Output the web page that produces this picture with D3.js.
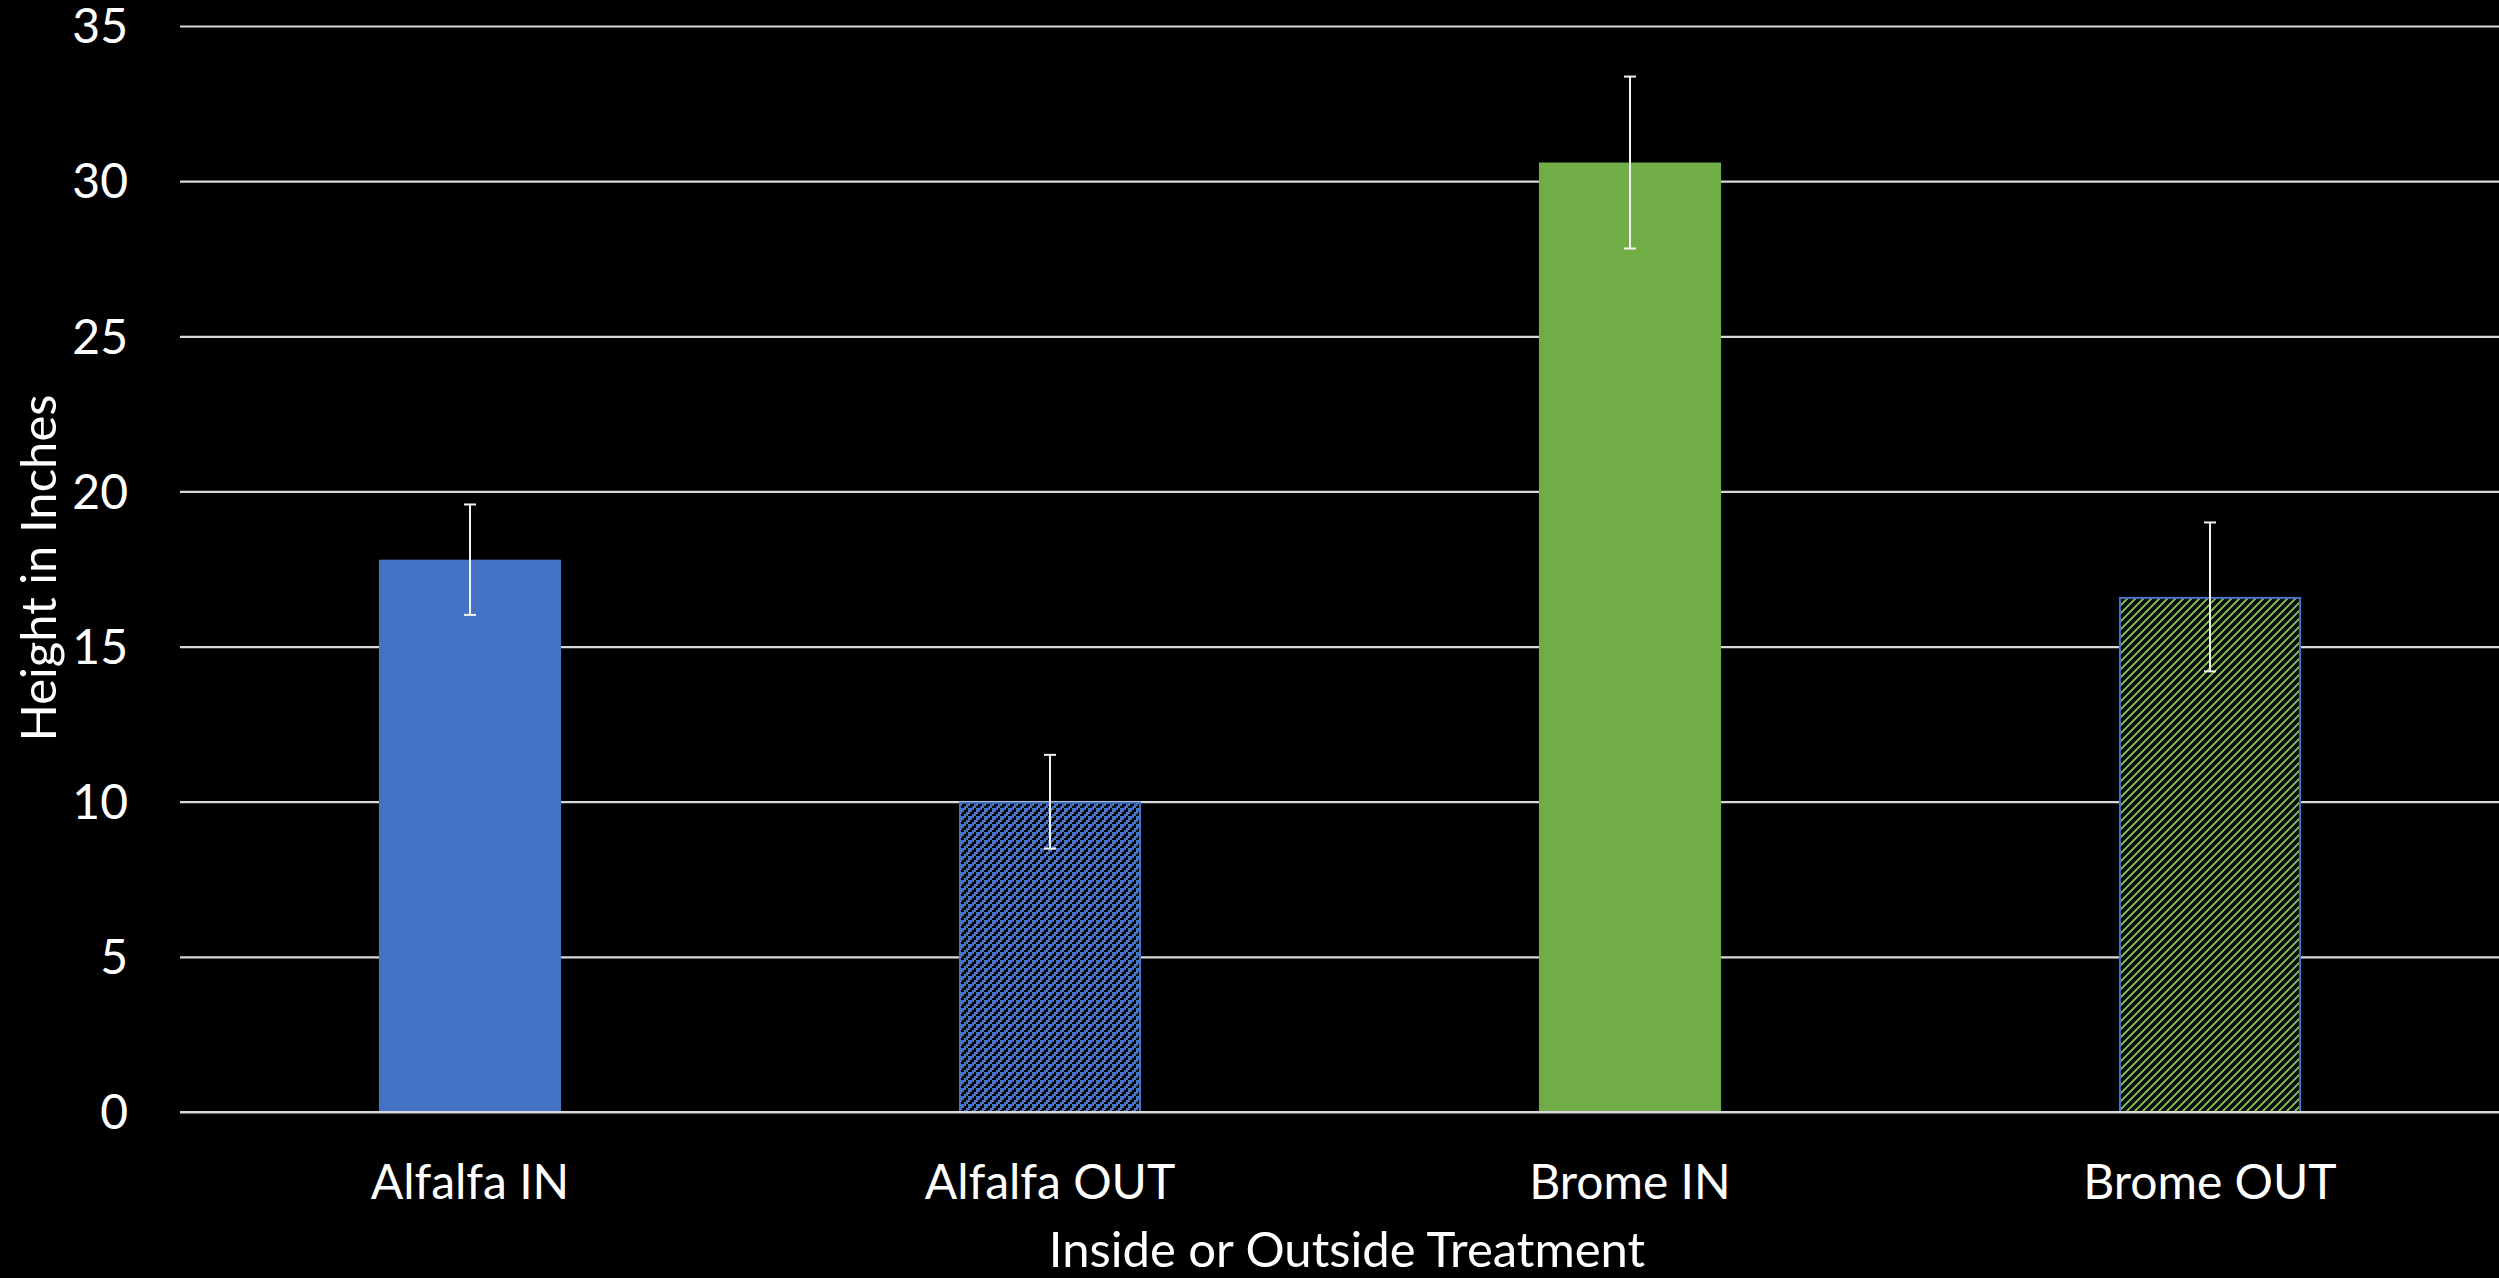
<!DOCTYPE html>
<html>
<head>
<meta charset="utf-8">
<script src="https://cdn.jsdelivr.net/npm/d3@7"></script>
<style>
  html, body { margin: 0; padding: 0; background: #000; }
  svg { display: block; }
  text { font-family: Lato, "Open Sans", sans-serif; fill: #fff; }
</style>
</head>
<body>
<svg id="chart" width="2499" height="1278"></svg>
<script>
const categories = ["Alfalfa IN", "Alfalfa OUT", "Brome IN", "Brome OUT"];
const heights = [17.8, 10.0, 30.6, 16.6];
const errors = [1.78, 1.51, 2.77, 2.4];
const yTicks = [0, 5, 10, 15, 20, 25, 30, 35];
const xTitle = "Inside or Outside Treatment";
const yTitle = "Height in Inches";

const W = 2499, H = 1278;
const margin = { left: 180, right: -1, top: 26, bottom: 166 };
const svg = d3.select("#chart");

const defs = svg.append("defs");
// Alfalfa OUT pattern: blue with black stepped upward diagonals
const p1 = defs.append("pattern").attr("id", "patBlue")
  .attr("patternUnits", "userSpaceOnUse").attr("width", 8).attr("height", 8);
p1.append("rect").attr("width", 8).attr("height", 8).attr("fill", "#4472C4");
[[6,0],[4,2],[2,4],[0,6]].forEach(([x,y]) => {
  p1.append("rect").attr("x", x).attr("y", y).attr("width", 4).attr("height", 2).attr("fill", "#000");
});
// Brome OUT pattern: green with dark upward diagonals
const p2 = defs.append("pattern").attr("id", "patGreen")
  .attr("patternUnits", "userSpaceOnUse").attr("width", 8).attr("height", 8);
p2.append("rect").attr("width", 8).attr("height", 8).attr("fill", "#70AD47");
for (let r = 0; r < 8; r++) {
  const x0 = 7 - r;
  [x0 - 8, x0].forEach(xx => {
    p2.append("rect").attr("x", xx).attr("y", r).attr("width", 5).attr("height", 1).attr("fill", "#0a0a0a");
  });
}

const fills = ["#4472C4", "url(#patBlue)", "#70AD47", "url(#patGreen)"];
const strokes = [null, "#4472C4", null, "#4472C4"];

const x = d3.scaleBand().domain(categories)
  .range([margin.left, W - margin.right])
  .paddingInner(0.686).paddingOuter(0.343);
const y = d3.scaleLinear().domain([0, 35]).range([H - margin.bottom, margin.top]);

// gridlines
const grid = svg.append("g")
  .attr("transform", `translate(${margin.left},0)`)
  .call(d3.axisLeft(y).tickValues(yTicks).tickSize(-(W - margin.left)).tickFormat(""));
grid.select(".domain").remove();
grid.selectAll("line").attr("stroke", "#d9d9d9").attr("stroke-width", 2.2);

// bars
svg.append("g").selectAll("rect").data(categories).join("rect")
  .attr("x", (d, i) => x(d) + (strokes[i] ? 1 : 0))
  .attr("width", (d, i) => x.bandwidth() - (strokes[i] ? 2 : 0))
  .attr("y", (d, i) => y(heights[i]) + (strokes[i] ? 1 : 0))
  .attr("height", (d, i) => y(0) - y(heights[i]) - (strokes[i] ? 1 : 0))
  .attr("fill", (d, i) => fills[i])
  .attr("stroke", (d, i) => strokes[i] || "none")
  .attr("stroke-width", 2);

// baseline over bars
svg.append("line")
  .attr("x1", margin.left).attr("x2", W)
  .attr("y1", y(0)).attr("y2", y(0))
  .attr("stroke", "#d9d9d9").attr("stroke-width", 2.2);

// error bars
const eb = svg.append("g").selectAll("g").data(categories).join("g");
eb.append("line")
  .attr("x1", d => x(d) + x.bandwidth() / 2).attr("x2", d => x(d) + x.bandwidth() / 2)
  .attr("y1", (d, i) => y(heights[i] + errors[i])).attr("y2", (d, i) => y(heights[i] - errors[i]))
  .attr("stroke", "#f2f2f2").attr("stroke-width", 2);
[1, -1].forEach(s => {
  eb.append("line")
    .attr("x1", d => x(d) + x.bandwidth() / 2 - 6).attr("x2", d => x(d) + x.bandwidth() / 2 + 6)
    .attr("y1", (d, i) => y(heights[i] + s * errors[i])).attr("y2", (d, i) => y(heights[i] + s * errors[i]))
    .attr("stroke", "#f2f2f2").attr("stroke-width", 2);
});

// y tick labels
svg.append("g").selectAll("text").data(yTicks).join("text")
  .attr("x", 128).attr("y", d => y(d)).attr("dy", "0.36em")
  .attr("text-anchor", "end").attr("font-size", 48)
  .text(d => d);

// x category labels
svg.append("g").selectAll("text").data(categories).join("text")
  .attr("x", d => x(d) + x.bandwidth() / 2).attr("y", 1199)
  .attr("text-anchor", "middle").attr("font-size", 48)
  .text(d => d);

// axis titles
svg.append("text").attr("x", 1347).attr("y", 1267)
  .attr("text-anchor", "middle").attr("font-size", 49).text(xTitle);
svg.append("text").attr("transform", "translate(56,568) rotate(-90)")
  .attr("text-anchor", "middle").attr("font-size", 49).text(yTitle);
</script>
</body>
</html>
